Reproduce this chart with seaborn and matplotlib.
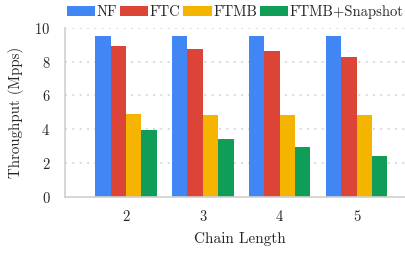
import matplotlib
matplotlib.use("Agg")
import matplotlib.pyplot as plt
import pandas as pd
import seaborn as sns

# values
chain_length = ["2", "3", "4", "5"]
systems = ["NF", "FTC", "FTMB", "FTMB+Snapshot"]
nf = [9.52, 9.52, 9.52, 9.52]
ftc = [8.92, 8.74, 8.62, 8.27]
ftmb = [4.89, 4.83, 4.83, 4.83]
ftmb_snap = [3.95, 3.41, 2.94, 2.41]
colors = ["#4285F4", "#DB4437", "#F4B400", "#0F9D58"]

rows = []
for name, vals in zip(systems, [nf, ftc, ftmb, ftmb_snap]):
    for c, v in zip(chain_length, vals):
        rows.append({"Chain Length": c, "System": name, "Throughput": v})
df = pd.DataFrame(rows)

sns.set_style("white")
plt.rcParams["font.family"] = ["cmr10", "DejaVu Serif"]
plt.rcParams["axes.formatter.use_mathtext"] = True

fig = plt.figure(figsize=(4.06, 2.54), dpi=100)
ax = fig.add_axes([0.160, 0.2256, 0.86, 0.6642])

sns.barplot(data=df, x="Chain Length", y="Throughput", hue="System",
            hue_order=systems, palette=colors, width=0.8, saturation=1,
            edgecolor="none", linewidth=0, ax=ax)

ax.set_ylim(0, 10)
ax.set_xlim(-0.795, 3.75)
ax.set_yticks([0, 2, 4, 6, 8, 10])

grey = "#d0d0d0"
for y in [2, 4, 6, 8, 10]:
    ax.axhline(y, color="#d4d4d4", linestyle=(0, (1.2, 3.2)), linewidth=1.2, zorder=0)
for s in ["top", "right"]:
    ax.spines[s].set_visible(False)
ax.spines["left"].set_color(grey)
ax.spines["bottom"].set_color(grey)
ax.spines["left"].set_linewidth(1.2)
ax.spines["bottom"].set_linewidth(1.2)
ax.tick_params(axis="y", length=5, color=grey, width=1.0, labelsize=10.5, pad=5.5)
ax.tick_params(axis="x", length=3, color=grey, width=1.0, labelsize=10.5, pad=7)

ax.set_xlabel("Chain Length", fontsize=11, labelpad=5.5)
ax.set_ylabel("Throughput (Mpps)", fontsize=10.75, labelpad=7.5)

handles, labels = ax.get_legend_handles_labels()
ax.legend(handles, labels, ncol=4, loc="lower left",
          bbox_to_anchor=(67 / 406, 1 - 19 / 254), bbox_transform=fig.transFigure,
          frameon=False, fontsize=10.5, handlelength=1.95, handleheight=0.72,
          handletextpad=0.1, columnspacing=0.18, borderaxespad=0, borderpad=0)

fig.savefig("out.png", dpi=100)
